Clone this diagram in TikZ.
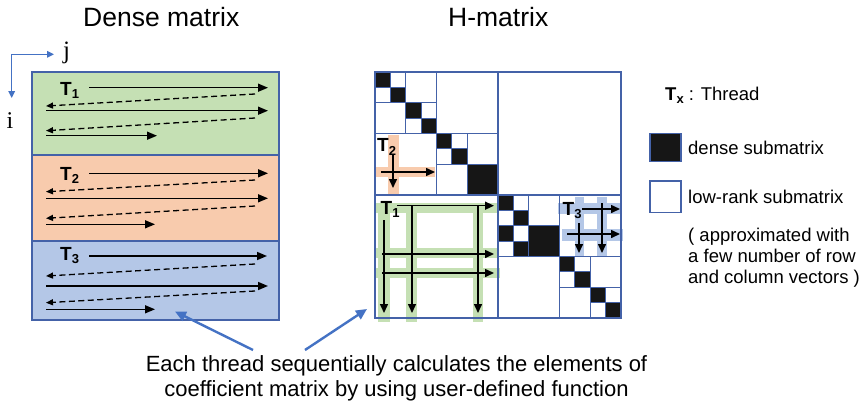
\documentclass[tikz,border=0pt]{standalone}
\usepackage{fontspec}
\setmainfont{Liberation Sans}
\newfontfamily\serifrm{Liberation Serif}
\usetikzlibrary{arrows.meta}
\definecolor{bord}{RGB}{68,98,168}
\definecolor{gfill}{RGB}{197,224,180}
\definecolor{ofill}{RGB}{248,203,173}
\definecolor{bfill}{RGB}{180,199,231}
\definecolor{dblk}{RGB}{22,22,22}
\definecolor{abl}{RGB}{68,114,196}
\newcommand\fs[1]{\fontsize{#1}{#1}\selectfont}
\newcommand\tlab[1]{\textbf{T\raisebox{-3.5pt}{\fs{13}#1}}}
\newcommand\dg[2]{%
  \draw[lr] (#1,#2) rectangle ++(2,2);
  \draw[lr] (#1+1,#2) -- ++(0,2) (#1,#2+1) -- ++(2,0);
  \draw[dn] (#1,#2) rectangle ++(1,1);
  \draw[dn] (#1+1,#2+1) rectangle ++(1,1);}
\begin{document}
\begin{tikzpicture}[x=1pt,y=-1pt,
 every node/.style={inner sep=0pt},
 thr/.style={line width=1.5pt,-{Triangle[length=10pt,width=8pt]}},
 thrd/.style={line width=1.3pt,dash pattern=on 6pt off 3.5pt,-{Triangle[length=7pt,width=6pt]}},
 hthr/.style={line width=1.5pt,-{Triangle[length=9pt,width=8pt]}},
 bandbox/.style={draw=bord,line width=1.7pt},
 lr/.style={draw=bord,line width=1.2pt},
 qf/.style={draw=bord,line width=1.9pt},
 dn/.style={fill=dblk,draw=bord,line width=1pt},
 callout/.style={draw=abl,line width=2.4pt,-{Triangle[length=11pt,width=10pt]}},
 axisarr/.style={draw=abl,line width=1.5pt,-{Triangle[length=7pt,width=6.5pt]}},
 tl/.style={anchor=base west,font=\fs{19}},
 leg/.style={anchor=base west,font=\fs{18.5}}
]
\fill[white] (0,0) rectangle (863,405);
\useasboundingbox (0,0) rectangle (863,405);

% titles
\node[anchor=base west,font=\fs{26.5}] (tdense) at (83,26.7) {Dense matrix};
\node[anchor=base west,font=\fs{26.5}] (thmat) at (448,26.7) {H-matrix};

% axes
\coordinate (orig) at (11.7,54.3);
\coordinate (jend) at (54,54.3);
\coordinate (iend) at (11.7,98);
\draw[axisarr] (orig) -- (jend);
\draw[axisarr] (orig) -- (iend);
\node[anchor=base west,font=\serifrm\fs{25}] (jlab) at (63,58) {j};
\node[anchor=base west,font=\serifrm\fs{24}] (ilab) at (6.5,128) {i};

% dense matrix
\draw[bandbox,fill=gfill] (31.7,72) rectangle (279,155);
\draw[bandbox,fill=ofill] (31.7,155) rectangle (279,240.7);
\draw[bandbox,fill=bfill] (31.7,240.7) rectangle (279,320);

\node[tl] (dt1) at (60,95) {\tlab{1}};
\node[tl] (dt2) at (60,180) {\tlab{2}};
\node[tl] (dt3) at (60,260) {\tlab{3}};

\draw[thr] (89,87.7) -- (268,87.7);
\draw[thrd] (255,94) -- (46,106);
\draw[thr] (46,110.7) -- (268,110.7);
\draw[thrd] (255,118) -- (46,130.7);
\draw[thr] (46,135.7) -- (157,135.7);

\draw[thr] (89,173.3) -- (268,173.3);
\draw[thrd] (255,180) -- (46,191.7);
\draw[thr] (46,198.3) -- (268,198.3);
\draw[thrd] (255,206) -- (46,218.3);
\draw[thr] (46,224.3) -- (155,224.3);

\draw[thr] (89,256) -- (267,256);
\draw[thrd] (255,264) -- (46,276);
\draw[thr] (46,286) -- (268,286);
\draw[thrd] (255,291) -- (46,302.7);
\draw[thr] (46,309.3) -- (155,309.3);

% H-matrix bands
\fill[gfill] (375,203) rectangle (498,213);
\fill[gfill] (375,248) rectangle (498,258);
\fill[gfill] (375,268) rectangle (500,278);
\fill[gfill] (378,203) rectangle (390,322);
\fill[gfill] (406,203) rectangle (417,322);
\fill[gfill] (473,203) rectangle (483,322);

\fill[ofill] (388,135) rectangle (399,196);
\fill[ofill] (375,167) rectangle (435,177);

\fill[bfill] (575,197) rectangle (584,257);
\fill[bfill] (597,197) rectangle (607,257);
\fill[bfill] (558,203) rectangle (622,214);
\fill[bfill] (562,229) rectangle (623,241);

% H-matrix blocks
\begin{scope}[shift={(375,72)}]
\begin{scope}[x=15.375pt,y=-15.375pt]
 % top-left quadrant
 \dg{0}{0} \dg{2}{2}
 \draw[lr] (2,0) rectangle (4,2);
 \draw[lr] (0,2) rectangle (2,4);
 \draw[lr] (0,0) rectangle (4,4);
 \draw[lr] (4,0) rectangle (8,4);
 \draw[lr] (0,4) rectangle (4,8);
 \dg{4}{4}
 \draw[lr] (6,4) rectangle (8,6);
 \draw[lr] (4,6) rectangle (6,8);
 \draw[dn] (6,6) rectangle (8,8);
 \draw[lr] (4,4) rectangle (8,8);
 % bottom-right quadrant
 \dg{8}{8} \dg{8}{10}
 \draw[lr] (10,8) rectangle (12,10);
 \draw[dn] (10,10) rectangle (12,12);
 \draw[lr] (8,8) rectangle (12,12);
 \draw[lr] (12,8) rectangle (16,12);
 \draw[lr] (8,12) rectangle (12,16);
 \dg{12}{12} \dg{14}{14}
 \draw[lr] (14,12) rectangle (16,14);
 \draw[lr] (12,14) rectangle (14,16);
 \draw[lr] (12,12) rectangle (16,16);
 % quadrant frames
 \draw[qf] (0,0) rectangle (8,8);
 \draw[qf] (8,0) rectangle (16,8);
 \draw[qf] (0,8) rectangle (8,16);
 \draw[qf] (8,8) rectangle (16,16);
\end{scope}
\end{scope}

% H-matrix thread arrows
\draw[hthr] (397,205.7) -- (494,205.7);
\draw[hthr] (382,254) -- (494,254);
\draw[hthr] (382,273) -- (494,273);
\draw[hthr] (384,220) -- (384,313);
\draw[hthr] (412,205) -- (412,313);
\draw[hthr] (478,205) -- (478,313);

\draw[hthr] (381,172) -- (435,172);
\draw[hthr] (393,155) -- (393,188);

\draw[hthr] (582,209) -- (620,209);
\draw[hthr] (567,234) -- (620,234);
\draw[hthr] (579,223) -- (579,253);
\draw[hthr] (602,203) -- (602,253);

\node[tl] (ht1) at (380.5,214) {\tlab{1}};
\node[tl] (ht2) at (377,151.7) {\tlab{2}};
\node[tl] (ht3) at (562.5,215) {\tlab{3}};

% legend
\node[leg] (lgT) at (665,100) {\textbf{T\raisebox{-3.5pt}{\fs{13}x}} : Thread};
\draw[dn,line width=1.5pt] (650,133.3) rectangle (681,161.7);
\node[leg] (lgd) at (688,154) {dense submatrix};
\draw[lr,line width=1.5pt,fill=white] (650,181) rectangle (681,212.7);
\node[leg] (lgl) at (688,203.5) {low-rank submatrix};
\node[leg] (lga) at (688,241.7) {( approximated with};
\node[leg] (lgb) at (688,262.7) {a few number of row};
\node[leg] (lgc) at (688,283.7) {and column vectors )};

% caption
\node[anchor=base,font=\fs{22}] (cap1) at (396.5,371.7) {Each thread sequentially calculates the elements of};
\node[anchor=base,font=\fs{22}] (cap2) at (396.5,396.7) {coefficient matrix by using user-defined function};
\coordinate (s1) at (253,350);
\coordinate (e1) at (175,311.5);
\coordinate (s2) at (305,350);
\coordinate (e2) at (367,309);
\draw[callout] (s1) -- (e1);
\draw[callout] (s2) -- (e2);
\end{tikzpicture}
\end{document}
